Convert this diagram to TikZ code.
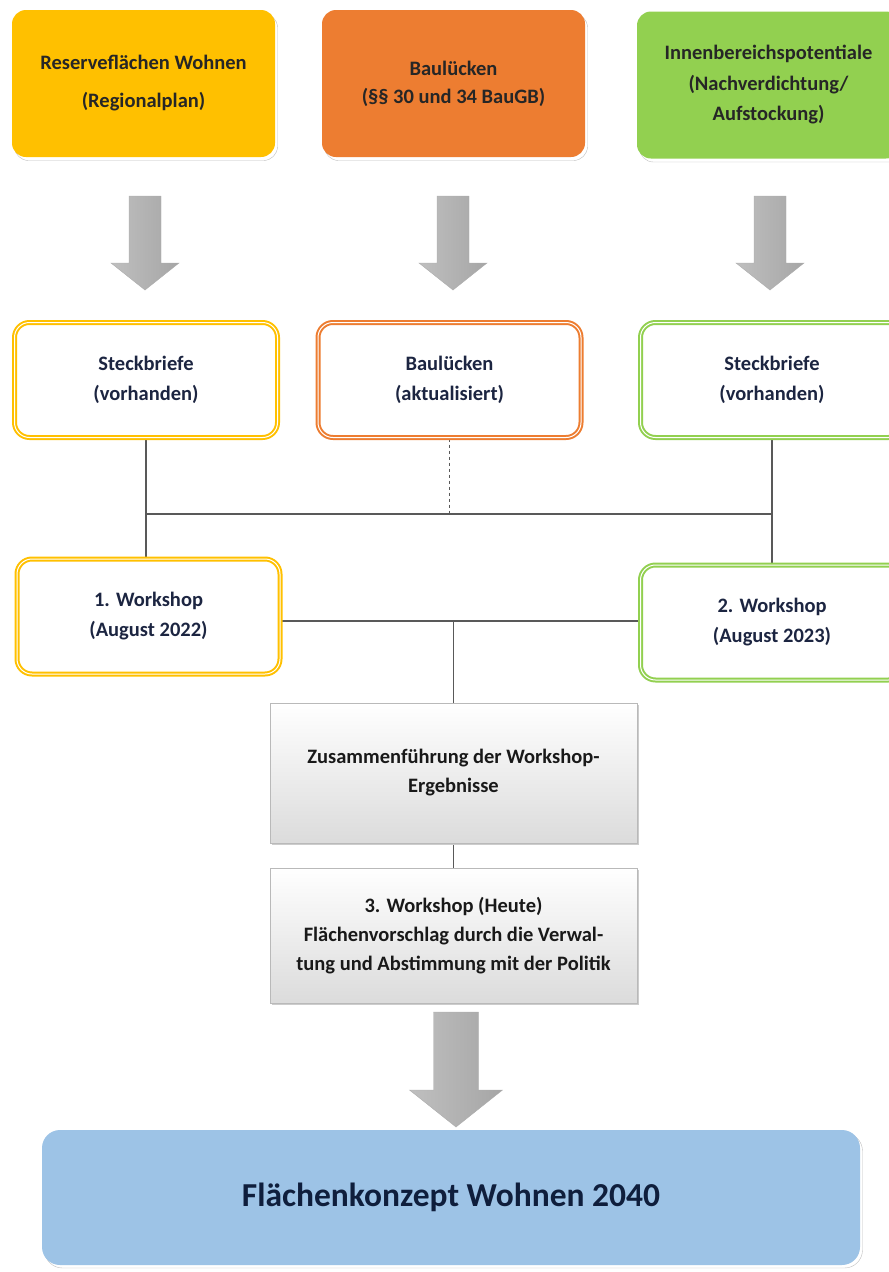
\documentclass[tikz,border=0pt]{standalone}
\usepackage{fontspec}
\setmainfont{Carlito}
\usetikzlibrary{shadows,backgrounds}
\definecolor{resyellow}{HTML}{FFC000}
\definecolor{bauorange}{HTML}{ED7D31}
\definecolor{inngreen}{HTML}{92D050}
\definecolor{goalblue}{HTML}{9DC3E6}
\definecolor{goaltext}{HTML}{0F1E3C}
\definecolor{boxtext}{HTML}{1C2541}
\definecolor{linegray}{HTML}{595959}
\tikzset{
  topbox/.style={
    rounded corners=14pt,
    minimum width=263pt,
    minimum height=147pt,
    align=center,
    text=black!85,
    font=\fontsize{20.5}{28}\selectfont\bfseries,
    drop shadow={shadow xshift=2.5pt, shadow yshift=-3.5pt, opacity=1, fill=white, draw=gray!50}
  },
  framebox/.style={
    fill=white,
    line width=2pt,
    double=white,
    double distance=1pt,
    rounded corners=15pt,
    minimum width=263pt,
    minimum height=115pt,
    align=center,
    text=boxtext,
    font=\fontsize{20.5}{30}\selectfont\bfseries
  },
  greybox/.style={
    draw=gray!55,
    top color=white,
    bottom color=gray!28,
    minimum width=367pt,
    align=center,
    text=black!90,
    font=\fontsize{20.5}{29}\selectfont\bfseries,
    drop shadow={shadow xshift=2pt, shadow yshift=-2pt, opacity=1, fill=gray!40}
  },
  goalbox/.style={
    fill=goalblue,
    rounded corners=18pt,
    minimum width=818pt,
    minimum height=135pt,
    text=goaltext,
    font=\fontsize{33.5}{40}\selectfont\bfseries,
    drop shadow={shadow xshift=2.5pt, shadow yshift=-3pt, opacity=1, fill=white, draw=gray!50}
  },
  link/.style={draw=linegray, line width=1.2pt},
  every picture/.style={x=1pt, y=-1pt}
}
% x, top, start of head, tip, half shaft, half head
\newcommand{\grayarrow}[6]{%
  \shade[left color=gray!50, middle color=gray!10, right color=gray!70, draw=gray!65]
    (#1-#5,#2) -- (#1+#5,#2) -- (#1+#5,#3) -- (#1+#6,#3) -- (#1,#4)
    -- (#1-#6,#3) -- (#1-#5,#3) -- cycle;
}
\begin{document}
\begin{tikzpicture}
  \useasboundingbox (0,0) rectangle (889,1272);

  % sources
  \node[topbox, fill=resyellow] (resw) at (143.5,83.5) {Reserveflächen Wohnen\\[10pt](Regionalplan)};
  \node[topbox, fill=bauorange] (bautop) at (453.5,83.5) {Baulücken\\(§§ 30 und 34 BauGB)};
  \node[topbox, fill=inngreen, font=\fontsize{20.5}{30.5}\selectfont\bfseries] (innen) at (768.5,85) {Innenbereichspotentiale\\(Nachverdichtung/\\Aufstockung)};

  \grayarrow{145}{196}{263}{290}{16}{34}
  \grayarrow{453}{196}{263}{290}{16}{34}
  \grayarrow{770}{196}{263}{290}{16}{34}

  % inventory
  \node[framebox, draw=resyellow] (steck1) at (146,380) {Steckbriefe\\(vorhanden)};
  \node[framebox, draw=bauorange] (baul) at (449.5,380) {Baulücken\\(aktualisiert)};
  \node[framebox, draw=inngreen] (steck2) at (772,380) {Steckbriefe\\(vorhanden)};

  % workshops
  \node[framebox, draw=resyellow] (ws1) at (148.5,616.5) {1. Workshop\\(August 2022)};
  \node[framebox, draw=inngreen] (ws2) at (772,622.5) {2. Workshop\\(August 2023)};

  \node[greybox, minimum height=140pt] (merge) at (453.5,773) {Zusammenführung der Workshop-\\Ergebnisse};
  \node[greybox, minimum height=135pt] (ws3) at (453.5,935.5) {3. Workshop (Heute)\\Flächenvorschlag durch die Verwal-\\tung und Abstimmung mit der Politik};

  \grayarrow{456}{1012}{1090}{1127}{22.5}{46.5}

  \node[goalbox] (goal) at (451,1197.5) {Flächenkonzept Wohnen 2040};

  \coordinate (hub) at (453,514);
  \coordinate (mid) at (453.5,621);
  \begin{scope}[on background layer]
    \draw[link] (steck1.south) -- (steck1.south |- ws1.north);
    \draw[link] (steck1.south |- hub) -- (steck2.south |- hub);
    \draw[link, dashed] (baul.south) -- (baul.south |- hub);
    \draw[link] (steck2.south) -- (ws2.north);
    \draw[link] (ws1.east |- mid) -- (ws2.west |- mid);
    \draw[link] (mid) -- (merge.north);
    \draw[link] (merge.south) -- (ws3.north);
  \end{scope}
\end{tikzpicture}
\end{document}
